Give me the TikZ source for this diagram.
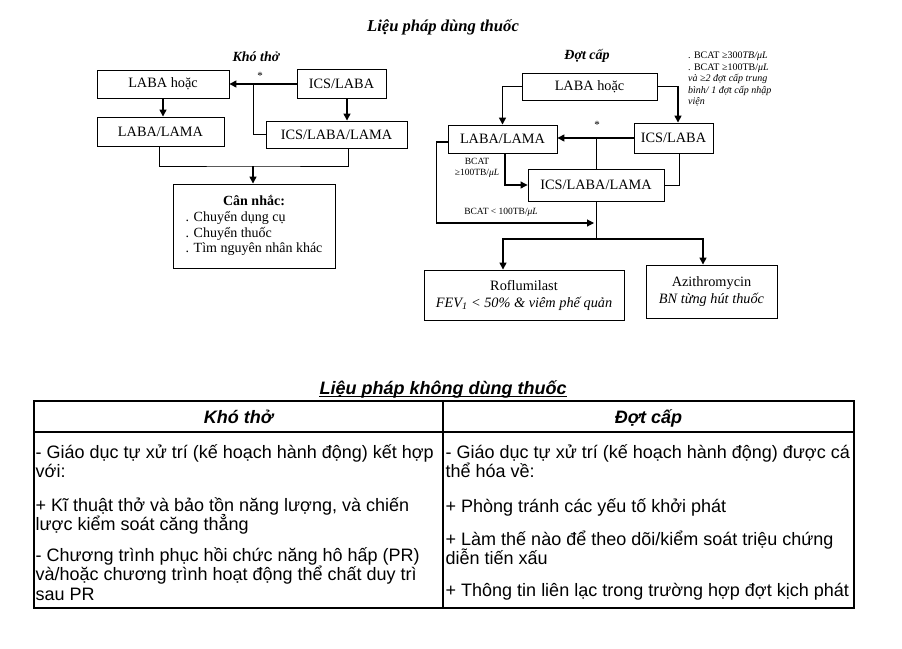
\documentclass[tikz,border=0pt]{standalone}
\usepackage{fontspec}
\setmainfont{Liberation Serif}
\newfontfamily\arialf{Liberation Sans}
\usetikzlibrary{arrows.meta}
\begin{document}
\begin{tikzpicture}[x=1pt,y=-1pt,
  box/.style={draw, line width=0.9pt, inner sep=0pt, font=\fontsize{14.3}{17}\selectfont},
  arr/.style={line width=1.4pt, -{Triangle[length=7pt,width=7pt]}},
  marr/.style={line width=1.1pt, -{Triangle[length=7pt,width=7pt]}},
  thinl/.style={line width=0.8pt},
  ttl/.style={font=\bfseries\itshape\fontsize{14}{16}\selectfont},
  small/.style={inner sep=0pt, font=\fontsize{9.5}{11}\selectfont},
  tcell/.style={anchor=base west, inner sep=0pt, font=\arialf\fontsize{18}{20}\selectfont},
  thead/.style={anchor=base, inner sep=0pt, font=\arialf\bfseries\itshape\fontsize{18}{20}\selectfont},
  tline/.style={line width=1.8pt},
]
\fill[white] (0,0) rectangle (902,648);
\useasboundingbox (0,0) rectangle (902,648);

% ---------- title
\node[font=\bfseries\itshape\fontsize{16.6}{18}\selectfont] (t1) at (443,27) {Liệu pháp dùng thuốc};

% ---------- left flowchart
\node[ttl] (t2) at (256,57) {Khó thở};
\node[box, minimum width=132pt, minimum height=28pt] (la) at (163,84) {LABA hoặc};
\node[box, minimum width=89pt, minimum height=29pt] (lb) at (341.5,84) {ICS/LABA};
\node[box, minimum width=127pt, minimum height=29pt] (lc) at (160.5,131.5) {LABA/LAMA};
\node[box, minimum width=141pt, minimum height=27pt] (ld) at (336.5,134.5) {ICS/LABA/LAMA};
\node[box, minimum width=162pt, minimum height=84pt, font=\fontsize{14}{15.8}\selectfont] (le) at (254,226)
  {\begin{tabular}{@{}l@{}}\multicolumn{1}{c}{\textbf{Cân nhắc:}}\\
   . Chuyển dụng cụ\\ . Chuyển thuốc\\ . Tìm nguyên nhân khác\end{tabular}};
\node[inner sep=0pt, font=\fontsize{11}{12}\selectfont] (st1) at (260,76) {*};

\coordinate (j1) at (253,84);
\draw[arr] (lb.west) -- (la.east);
\draw[thinl] (j1) |- (ld.west);
\draw[arr] (la.south) -- (la.south |- lc.north);
\coordinate (p1) at ([xshift=5.5pt]lb.south);
\draw[arr] (p1) -- (p1 |- ld.north);
\coordinate (j2) at (253,166);
\coordinate (p2) at ([xshift=-1.5pt]lc.south);
\coordinate (p3) at ([xshift=11.5pt]ld.south);
\draw[thinl] (p2) |- (j2) -| (p3);
\draw[arr] (j2) -- (j2 |- le.north);

% ---------- right flowchart
\node[ttl] (t3) at (587,56) {Đợt cấp};
\node[small, anchor=north west, align=left, font=\fontsize{10}{11.4}\selectfont] (note) at (688,52)
  {. BCAT ≥300\textit{TB/μL}\\. BCAT ≥100TB/\textit{μL}\\\textit{và ≥2 đợt cấp trung}\\\textit{bình/ 1 đợt cấp nhập}\\\textit{viện}};
\node[box, minimum width=135pt, minimum height=27pt] (ra) at (589.5,86.5) {LABA hoặc};
\node[box, minimum width=109pt, minimum height=28pt] (rb) at (502.5,139) {LABA/LAMA};
\node[box, minimum width=79pt, minimum height=30pt] (rc) at (673.5,138) {ICS/LABA};
\node[box, minimum width=136pt, minimum height=32pt] (rd) at (596,185) {ICS/LABA/LAMA};
\node[box, minimum width=200pt, minimum height=50pt, align=center] (re) at (524,295)
  {Roflumilast\\\textit{FEV\textsubscript{1} < 50\% \& viêm phế quản}};
\node[box, minimum width=131pt, minimum height=53pt, align=center] (rf) at (711.5,291.5)
  {Azithromycin\\\textit{BN từng hút thuốc}};
\node[inner sep=0pt, font=\fontsize{11}{12}\selectfont] (st2) at (597,125) {*};
\node[small, align=center] (lb1) at (477,168) {BCAT\\≥100TB/\textit{μL}};
\node[small] (lb2) at (501,212) {BCAT < 100TB/\textit{μL}};

\draw[arr] (ra.west) -| (rb.north);
\coordinate (p4) at ([xshift=4.5pt]rc.north);
\draw[arr] (ra.east) -| (p4);
\draw[arr] (rc.west) -- (rc.west -| rb.east);
\coordinate (j3) at (596,138);
\draw[thinl] (j3) -- (j3 |- rd.north);
\coordinate (p5) at ([xshift=2.5pt]rb.south);
\draw[marr] (p5) |- (rd.west);
\coordinate (p6) at ([xshift=5.5pt]rc.south);
\draw[thinl] (p6) |- (rd.east);
\coordinate (p7) at ([yshift=-3pt]rb.west);
\coordinate (j4) at (594,223);
\draw[marr] (p7) -- ++(-11,0) |- (j4);
\coordinate (j5) at (596,239);
\draw[thinl] (rd.south) -- (j5);
\coordinate (p8) at ([xshift=-21pt]re.north);
\coordinate (p9) at ([xshift=-8.5pt]rf.north);
\draw[arr] (j5) -| (p8);
\draw[arr] (j5) -| (p9);

% ---------- table
\node[thead] (t4) at (443,394) {Liệu pháp không dùng thuốc};
\draw[line width=1.1pt] ([yshift=-2.6pt]t4.base west) -- ([yshift=-2.6pt]t4.base east);
\draw[tline] (34,401) rectangle (854,608);
\draw[tline] (34,432) -- (854,432);
\draw[tline] (443,401) -- (443,608);
\node[thead] (h1) at (238.5,423) {Khó thở};
\node[thead] (h2) at (648.5,423) {Đợt cấp};

\node[tcell] (l1) at (35.5,458) {- Giáo dục tự xử trí (kế hoạch hành động) kết hợp};
\node[tcell] (l2) at (35.5,477) {với:};
\node[tcell] (l3) at (35.5,511) {+ Kĩ thuật thở và bảo tồn năng lượng, và chiến};
\node[tcell] (l4) at (35.5,530) {lược kiểm soát căng thẳng};
\node[tcell] (l5) at (35.5,561) {- Chương trình phục hồi chức năng hô hấp (PR)};
\node[tcell] (l6) at (35.5,580) {và/hoặc chương trình hoạt động thể chất duy trì};
\node[tcell] (l7) at (35.5,600) {sau PR};

\node[tcell] (r1) at (445.5,458) {- Giáo dục tự xử trí (kế hoạch hành động) được cá};
\node[tcell] (r2) at (445.5,477) {thể hóa về:};
\node[tcell] (r3) at (445.5,512) {+ Phòng tránh các yếu tố khởi phát};
\node[tcell] (r4) at (445.5,545) {+ Làm thế nào để theo dõi/kiểm soát triệu chứng};
\node[tcell] (r5) at (445.5,564) {diễn tiến xấu};
\node[tcell] (r6) at (445.5,596) {+ Thông tin liên lạc trong trường hợp đợt kịch phát};
\end{tikzpicture}
\end{document}
